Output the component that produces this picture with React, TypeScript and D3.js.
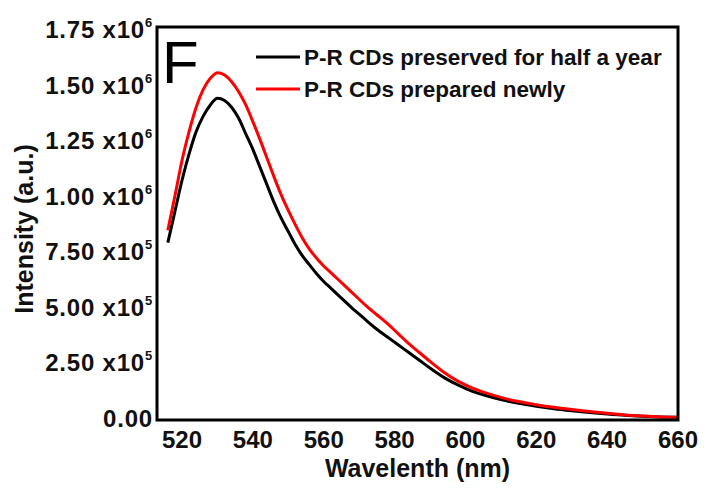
import React from "react";
import * as d3 from "d3";

const wavelength = [516,518,520,522,524,526,528,530,532,534,536,538,540,542,544,546,548,550,552,554,556,558,560,562,564,566,568,570,572,575,578,581,584,587,590,594,598,602,606,610,615,620,625,630,635,640,645,650,655,660];
const preservedHalfYear = [0.79,0.93,1.07,1.19,1.29,1.36,1.41,1.44,1.43,1.40,1.35,1.28,1.21,1.13,1.05,0.97,0.90,0.84,0.78,0.73,0.69,0.65,0.615,0.585,0.555,0.525,0.495,0.468,0.44,0.40,0.365,0.33,0.295,0.26,0.225,0.182,0.148,0.12,0.10,0.083,0.066,0.053,0.042,0.033,0.025,0.018,0.012,0.008,0.005,0.003];
const preparedNewly = [0.845,1.00,1.16,1.29,1.40,1.48,1.53,1.555,1.545,1.515,1.47,1.41,1.335,1.255,1.17,1.085,1.005,0.935,0.87,0.81,0.76,0.72,0.685,0.655,0.625,0.595,0.565,0.535,0.505,0.465,0.425,0.38,0.335,0.295,0.255,0.205,0.165,0.135,0.112,0.093,0.074,0.06,0.048,0.038,0.029,0.021,0.014,0.009,0.005,0.003];

const xTicks = [520,540,560,580,600,620,640,660];
const yTickValues = [0,0.25,0.5,0.75,1.0,1.25,1.5,1.75];
const yTickMantissa = ["0.00","2.50","5.00","7.50","1.00","1.25","1.50","1.75"];
const yTickExponent = ["","5","5","5","6","6","6","6"];

const seriesNames = ["P-R CDs preserved for half a year","P-R CDs prepared newly"];
const seriesColors = ["#000000","#ff0000"];

const FONT = "'Liberation Sans', Arial, sans-serif";

export default function App() {
  const W = 711, H = 488;
  const left = 157, right = 678, top = 27, bottom = 420;
  const x = d3.scaleLinear().domain([520, 660]).range([182, 678]);
  const y = d3.scaleLinear().domain([0, 1.75]).range([418, 29.5]);
  const line = d3.line<number>().x((_, i) => x(wavelength[i])).y(d => y(d)).curve(d3.curveMonotoneX);
  const series = [preservedHalfYear, preparedNewly];

  return (
    <svg width={W} height={H} style={{ position: "absolute", left: 0, top: 0, background: "#fff" }} fontFamily={FONT}>
      <rect x={0} y={0} width={W} height={H} fill="#fff" />
      {series.map((s, k) => (
        <path key={k} d={line(s) || ""} fill="none" stroke={seriesColors[k]} strokeWidth={3} strokeLinejoin="round" />
      ))}
      <rect x={left} y={top} width={right - left} height={bottom - top} fill="none" stroke="#000" strokeWidth={3} />
      {xTicks.map(t => (
        <text key={t} x={x(t)} y={448} textAnchor="middle" fontSize={24} fontWeight="bold" fill="#111">{t}</text>
      ))}
      {yTickValues.map((v, i) => (
        <text key={v} x={153} y={y(v)} dy="0.36em" textAnchor="end" fontSize={24} fontWeight="bold" fill="#111" letterSpacing={0.8}>
          <tspan>{yTickMantissa[i] + (yTickExponent[i] ? " x10" : "")}</tspan>
          {yTickExponent[i] ? <tspan dy={-11} fontSize={13}>{yTickExponent[i]}</tspan> : null}
        </text>
      ))}
      <text x={(left + right) / 2} y={477} textAnchor="middle" fontSize={25} fontWeight="bold" fill="#111">Wavelenth (nm)</text>
      <text transform={`translate(33,229) rotate(-90)`} textAnchor="middle" fontSize={25} fontWeight="bold" fill="#111">Intensity (a.u.)</text>
      <text x={162} y={83} fontSize={60} fill="#000">F</text>
      {seriesNames.map((n, k) => (
        <g key={n}>
          <line x1={256} x2={300} y1={57 + k * 32} y2={57 + k * 32} stroke={seriesColors[k]} strokeWidth={3} />
          <text x={304} y={65 + k * 32} fontSize={22.5} fontWeight="bold" fill="#111">{n}</text>
        </g>
      ))}
    </svg>
  );
}
